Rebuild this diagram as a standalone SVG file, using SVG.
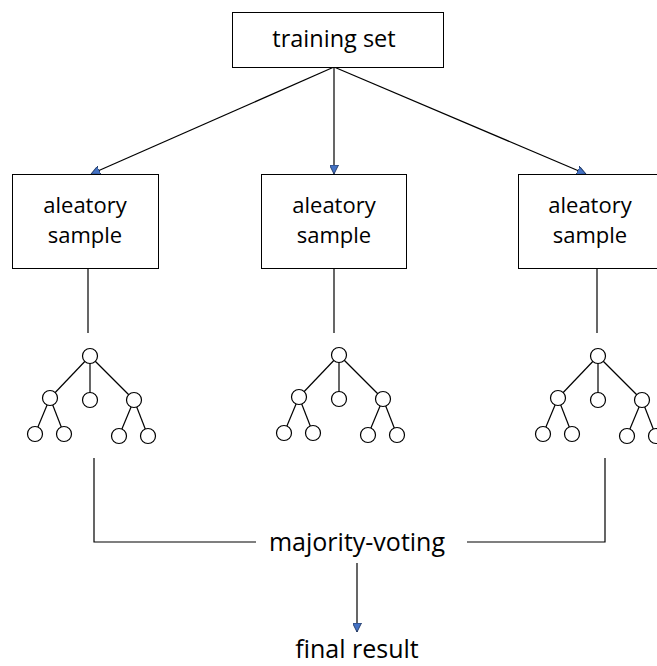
<svg xmlns="http://www.w3.org/2000/svg" width="657" height="666" viewBox="0 0 657 666">
<defs>
<style>
.box{fill:#fff;stroke:#000;stroke-width:1}
.t{font-family:"Open Sans","Liberation Sans",sans-serif;font-size:23.5px;fill:#000;text-anchor:middle}
.ts{font-size:22px}
.tb{font-size:25px}
.ln{stroke:#000;stroke-width:1.2;fill:none}
.c{fill:#fff;stroke:#000;stroke-width:1.2}
</style>
<marker id="ah" viewBox="0 0 10 10" refX="10" refY="5" markerWidth="9" markerHeight="9" markerUnits="userSpaceOnUse" orient="auto">
<path d="M0,0 L10,5 L0,10 Z" fill="#4472C4" stroke="#1F3864" stroke-width="1"/>
</marker>
<g id="tree">
<line class="ln" x1="0" y1="0" x2="-40" y2="42"/>
<line class="ln" x1="0" y1="0" x2="0" y2="44"/>
<line class="ln" x1="0" y1="0" x2="44" y2="44"/>
<line class="ln" x1="-40" y1="42" x2="-55" y2="78"/>
<line class="ln" x1="-40" y1="42" x2="-26" y2="78"/>
<line class="ln" x1="44" y1="44" x2="29" y2="80"/>
<line class="ln" x1="44" y1="44" x2="58" y2="80"/>
<circle class="c" cx="0" cy="0" r="7.5"/>
<circle class="c" cx="-40" cy="42" r="7.5"/>
<circle class="c" cx="0" cy="44" r="7.5"/>
<circle class="c" cx="44" cy="44" r="7.5"/>
<circle class="c" cx="-55" cy="78" r="7.5"/>
<circle class="c" cx="-26" cy="78" r="7.5"/>
<circle class="c" cx="29" cy="80" r="7.5"/>
<circle class="c" cx="58" cy="80" r="7.5"/>
</g>
</defs>
<rect width="657" height="666" fill="#fff"/>
<g id="connectors">
<line class="ln" x1="334" y1="67" x2="91" y2="174" marker-end="url(#ah)"/>
<line class="ln" x1="334" y1="67" x2="334" y2="174" marker-end="url(#ah)"/>
<line class="ln" x1="334" y1="67" x2="586" y2="174" marker-end="url(#ah)"/>
<line class="ln" x1="88" y1="268" x2="88" y2="333"/>
<line class="ln" x1="334" y1="268" x2="334" y2="333"/>
<line class="ln" x1="597" y1="268" x2="597" y2="333"/>
<polyline class="ln" points="94,458 94,542 256,542"/>
<polyline class="ln" points="467,542 605,542 605,458"/>
<line class="ln" x1="357" y1="563" x2="357" y2="632" marker-end="url(#ah)"/>
</g>
<g id="training-set">
<rect class="box" x="232.5" y="12.5" width="211" height="55"/>
<text class="t" x="334" y="47">training set</text>
</g>
<g id="sample-left">
<rect class="box" x="12.5" y="174.5" width="146" height="94"/>
<text class="t ts" x="85" y="213">aleatory</text>
<text class="t ts" x="85" y="243">sample</text>
</g>
<g id="sample-middle">
<rect class="box" x="261.5" y="174.5" width="145" height="94"/>
<text class="t ts" x="334" y="213">aleatory</text>
<text class="t ts" x="334" y="243">sample</text>
</g>
<g id="sample-right">
<rect class="box" x="518.5" y="174.5" width="150" height="94"/>
<text class="t ts" x="590" y="213">aleatory</text>
<text class="t ts" x="590" y="243">sample</text>
</g>
<g id="tree-left"><use href="#tree" x="90" y="356"/></g>
<g id="tree-middle"><use href="#tree" x="339" y="355"/></g>
<g id="tree-right"><use href="#tree" x="598" y="356"/></g>
<g id="majority-voting">
<text class="t tb" x="357" y="551">majority-voting</text>
</g>
<g id="final-result">
<text class="t tb" x="357" y="658">final result</text>
</g>
</svg>
